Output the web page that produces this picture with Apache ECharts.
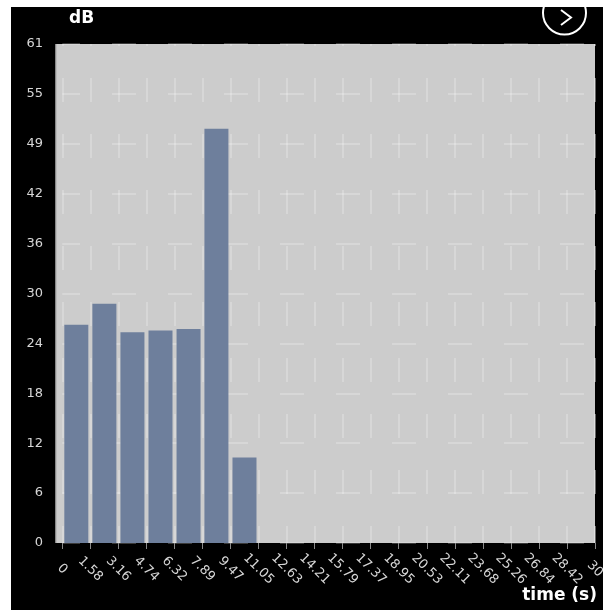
<!DOCTYPE html>
<html>
<head>
<meta charset="utf-8">
<script src="https://cdn.jsdelivr.net/npm/echarts@6/dist/echarts.min.js"></script>
<style>
  html, body { margin: 0; padding: 0; background: #fff; width: 603px; height: 610px; overflow: hidden; }
  #chart { position: absolute; left: 11px; top: 7px; width: 592px; height: 603px; overflow: hidden; }
</style>
</head>
<body>
<div id="chart"></div>
<script>
// Time axis: 0..30 s split into 19 equal bins
const timeMax = 30;
const binCount = 19;
const timeTickLabels = ['0', '1.58', '3.16', '4.74', '6.32', '7.89', '9.47', '11.05', '12.63', '14.21',
  '15.79', '17.37', '18.95', '20.53', '22.11', '23.68', '25.26', '26.84', '28.42', '30'];

// Level axis in dB
const dbMax = 61.3;
const dbStep = 6.13;
const dbTickLabels = ['0', '6', '12', '18', '24', '30', '36', '42', '49', '55', '61'];

// Measured level per time bin (bin centre in seconds, level in dB)
const binCenters = [0.79, 2.37, 3.95, 5.53, 7.11, 8.68, 10.26];
const levels = [26.8, 29.4, 25.9, 26.1, 26.3, 50.9, 10.5];

const chart = echarts.init(document.getElementById('chart'), null, { renderer: 'canvas' });

const labelFont = { color: '#d6d6d6', fontFamily: 'DejaVu Sans', fontSize: 13 };
const gridLine = { color: 'rgba(255,255,255,0.3)', width: 1.5, type: [24, 32] };

const option = {
  backgroundColor: '#000',
  animation: false,
  grid: {
    left: 51.3, right: 8, top: 37, bottom: 67,
    containLabel: false,
    outerBoundsMode: 'none'
  },
  xAxis: {
    type: 'value',
    min: 0,
    max: timeMax,
    interval: timeMax / binCount,
    z: 1,
    axisLine: { show: false },
    axisTick: { show: true, length: 6, lineStyle: { color: '#8a8a8a', width: 1 } },
    axisLabel: Object.assign({
      rotate: -45,
      align: 'center',
      verticalAlign: 'middle',
      margin: 26,
      showMinLabel: true,
      showMaxLabel: true,
      hideOverlap: false,
      formatter: (v) => timeTickLabels[Math.round(v / (timeMax / binCount))]
    }, labelFont),
    splitLine: { show: true, lineStyle: Object.assign({ dashOffset: 22 }, gridLine) }
  },
  yAxis: {
    type: 'value',
    min: 0,
    max: dbMax,
    interval: dbStep,
    offset: 6.3,
    z: 1,
    axisLine: { show: false },
    axisTick: { show: false },
    axisLabel: Object.assign({
      margin: 13,
      showMinLabel: true,
      showMaxLabel: true,
      formatter: (v) => dbTickLabels[Math.round(v / dbStep)]
    }, labelFont),
    splitLine: { show: true, lineStyle: Object.assign({ dashOffset: 6.3 }, gridLine) }
  },
  series: [{
    type: 'bar',
    data: binCenters.map((t, i) => [t, levels[i]]),
    barWidth: 24,
    z: 2,
    itemStyle: { color: '#6e7f9c' }
  }],
  graphic: [
    // plot background with a thin darker left edge
    { type: 'rect', z: 0, silent: true,
      shape: { x: 44.5, y: 37, width: 539.5, height: 499 },
      style: { fill: '#cccccc' } },
    { type: 'line', z: 0, silent: true,
      shape: { x1: 45, y1: 37, x2: 45, y2: 536 },
      style: { stroke: '#a8a8a8', lineWidth: 1 } },
    // axis titles
    { type: 'text', z: 10, silent: true,
      style: { text: 'dB', x: 58, y: 12, verticalAlign: 'middle', fill: '#fff',
        font: 'bold 17px "DejaVu Sans"' } },
    { type: 'text', z: 10, silent: true,
      style: { text: 'time (s)', x: 586, y: 589, align: 'right', verticalAlign: 'middle', fill: '#fff',
        font: 'bold 17px "DejaVu Sans"' } },
    // "next" button
    { type: 'circle', z: 50, silent: true,
      shape: { cx: 553.5, cy: 6, r: 21.5 },
      style: { fill: 'none', stroke: '#fff', lineWidth: 2 } },
    { type: 'polyline', z: 50, silent: true,
      shape: { points: [[550, 3], [560, 10.5], [550, 18]] },
      style: { fill: 'none', stroke: '#fff', lineWidth: 2 } }
  ]
};

chart.setOption(option);
</script>
</body>
</html>
